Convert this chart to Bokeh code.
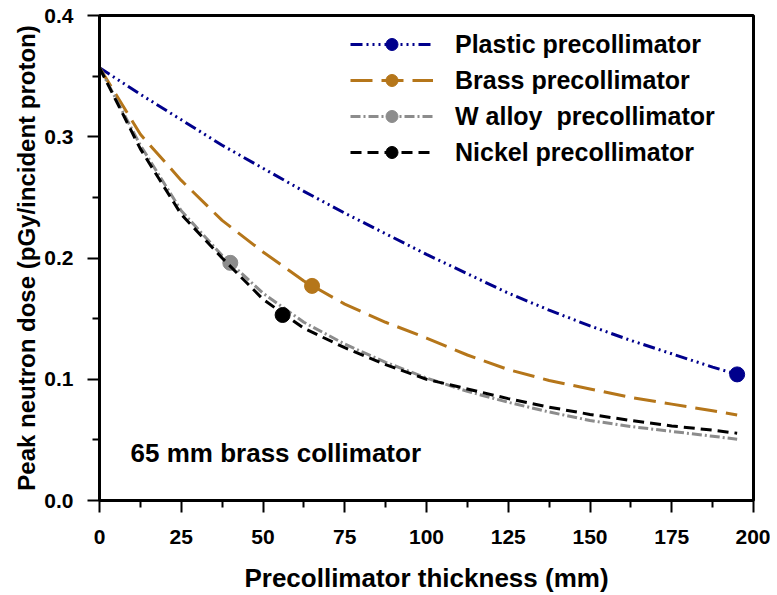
from bokeh.plotting import figure
from bokeh.models import Range1d, FixedTicker, PrintfTickFormatter, Label, Legend
from bokeh.embed import file_html
from bokeh.resources import INLINE

# ---- data ----
thickness = [0, 12.5, 25, 37.5, 50, 62.5, 75, 87.5, 100, 112.5, 125, 137.5, 150, 162.5, 175, 187.5, 195]
plastic = [0.357, 0.335, 0.314, 0.293, 0.274, 0.255, 0.237, 0.220, 0.203, 0.187, 0.171, 0.157, 0.144, 0.132, 0.121, 0.110, 0.104]
brass = [0.357, 0.302, 0.264, 0.231, 0.205, 0.181, 0.162, 0.147, 0.134, 0.120, 0.108, 0.099, 0.092, 0.085, 0.0795, 0.074, 0.0705]
walloy = [0.357, 0.293, 0.239, 0.202, 0.171, 0.147, 0.129, 0.114, 0.101, 0.090, 0.081, 0.073, 0.066, 0.061, 0.057, 0.053, 0.0505]
nickel = [0.357, 0.290, 0.236, 0.200, 0.166, 0.142, 0.126, 0.112, 0.100, 0.092, 0.084, 0.077, 0.071, 0.066, 0.0615, 0.058, 0.0555]

marker_x = {"plastic": 195, "brass": 65, "walloy": 40, "nickel": 56}
marker_y = {"plastic": 0.104, "brass": 0.177, "walloy": 0.196, "nickel": 0.153}

labels = {"plastic": "Plastic precollimator", "brass": "Brass precollimator",
          "walloy": "W alloy  precollimator", "nickel": "Nickel precollimator"}

x_ticks = [0, 25, 50, 75, 100, 125, 150, 175, 200]
x_minor = [12.5, 37.5, 62.5, 87.5, 112.5, 137.5, 162.5, 187.5]
y_ticks = [0.0, 0.1, 0.2, 0.3, 0.4]
y_minor = [0.05, 0.15, 0.25, 0.35]

FONT = "Liberation Sans"

p = figure(width=770, height=595, output_backend="svg", toolbar_location=None,
           x_range=Range1d(0, 200), y_range=Range1d(0, 0.4),
           min_border_left=99, min_border_right=17, min_border_top=15, min_border_bottom=94)
p.xgrid.visible = False
p.ygrid.visible = False
p.outline_line_color = "black"
p.outline_line_width = 3
p.background_fill_color = "white"
p.border_fill_color = "white"

series = [
    ("plastic", plastic, "#00008C", "12 4 2 4 2 4 2 4", 3),
    ("brass", brass, "#B5761A", "22 9", 3),
    ("walloy", walloy, "#8C8C8C", "10 3 2 3", 3),
    ("nickel", nickel, "black", "11 6", 3),
]

legend_items = []
for key, ys, color, dash, lw in series:
    r1 = p.line(thickness, ys, line_color=color, line_width=lw, line_dash=dash)
    r2 = p.scatter([marker_x[key]], [marker_y[key]], size=15, marker="circle",
                   fill_color=color, line_color=color)
    legend_items.append((labels[key], [r1, r2]))

legend = Legend(items=legend_items, location=(251, 333), margin=0, padding=0,
                spacing=6, glyph_width=83, glyph_height=30, label_height=30,
                label_standoff=22, border_line_color=None, background_fill_alpha=0,
                label_text_font=FONT, label_text_font_style="bold",
                label_text_font_size="25px", label_text_color="black")
p.add_layout(legend)

for ax in (p.xaxis[0], p.yaxis[0]):
    ax.axis_line_width = 3
    ax.major_tick_line_width = 2
    ax.minor_tick_line_width = 2
    ax.major_tick_out = 12
    ax.major_tick_in = 0
    ax.minor_tick_out = 7
    ax.minor_tick_in = 0
    ax.major_label_text_font = FONT
    ax.major_label_text_font_style = "bold"
    ax.major_label_text_font_size = "21px"
    ax.major_label_text_color = "black"
    ax.axis_label_text_font = FONT
    ax.axis_label_text_font_style = "bold"
    ax.axis_label_text_color = "black"

p.xaxis.axis_label_text_font_size = "26px"
p.yaxis.axis_label_text_font_size = "24px"
p.xaxis.ticker = FixedTicker(ticks=x_ticks, minor_ticks=x_minor)
p.yaxis.ticker = FixedTicker(ticks=y_ticks, minor_ticks=y_minor)
p.yaxis.formatter = PrintfTickFormatter(format="%.1f")
p.xaxis.axis_label = "Precollimator thickness (mm)"
p.yaxis.axis_label = "Peak neutron dose (pGy/incident proton)"
p.xaxis.major_label_standoff = 17
p.xaxis.axis_label_standoff = 16
p.yaxis.major_label_standoff = 14
p.yaxis.axis_label_standoff = 1

note = Label(x=9.5, y=0.0395, text="65 mm brass collimator", text_font=FONT,
             text_font_style="bold", text_font_size="26px", text_baseline="middle",
             text_color="black")
p.add_layout(note)

open("out.html", "w").write(file_html(p, INLINE))
